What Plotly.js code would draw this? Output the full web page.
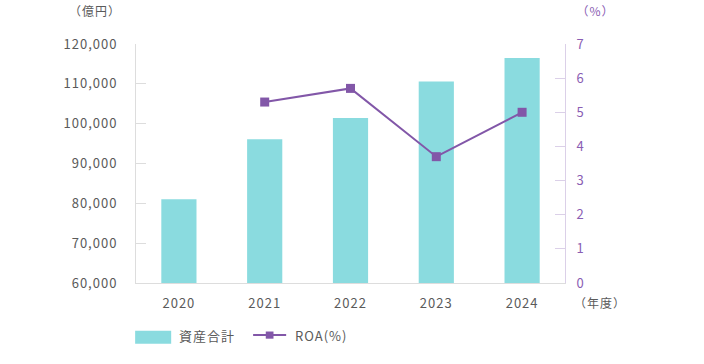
<!DOCTYPE html>
<html>
<head>
<meta charset="utf-8">
<script src="https://cdn.plot.ly/plotly-3.0.1.min.js"></script>
<style>
html,body{margin:0;padding:0;background:#fff;}
#chart{width:704px;height:364px;}
#chart text{letter-spacing:1px;}
</style>
</head>
<body>
<div id="chart"></div>
<script>
const years = ["2020", "2021", "2022", "2023", "2024"];
const totalAssets = [81000, 96100, 101400, 110600, 116500];
const roa = [null, 5.3, 5.7, 3.7, 5.0];
const leftTicks = [60000, 70000, 80000, 90000, 100000, 110000, 120000];
const rightTicks = [0, 1, 2, 3, 4, 5, 6, 7];
const barName = "資産合計";
const lineName = "ROA(%)";

const barColor = "#8adbdf";
const lineColor = "#8257a8";
const grayText = "#5a5a5a";
const purpleText = "#8a5db3";
const fontFam = "'Noto Sans CJK JP', 'Noto Sans', sans-serif";

const traces = [
  {type: "bar", x: years, y: totalAssets, name: barName, marker: {color: barColor}, yaxis: "y", showlegend: false},
  {type: "scatter", mode: "lines+markers", x: years, y: roa, name: lineName, yaxis: "y2",
   line: {color: lineColor, width: 2}, marker: {symbol: "square", size: 9, color: lineColor}, connectgaps: false, showlegend: false}
];

const layout = {
  width: 704, height: 364,
  margin: {l: 136, r: 139, t: 44, b: 81},
  paper_bgcolor: "#fff", plot_bgcolor: "#fff",
  font: {family: fontFam, size: 13, color: grayText},
  bargap: 0.59,
  xaxis: {type: "category", showline: true, linecolor: "#dddddd", linewidth: 1, ticks: "", showgrid: false, zeroline: false,
          tickfont: {size: 13, color: grayText}, ticklabelstandoff: 8},
  yaxis: {range: [60000, 120000], tickvals: leftTicks, tickformat: ",", showgrid: false, zeroline: false,
          showline: true, linecolor: "#dddddd", linewidth: 1, ticks: "inside", ticklen: 10, tickcolor: "#dddddd",
          tickfont: {size: 13, color: grayText}, ticklabelstandoff: 15},
  yaxis2: {range: [0, 7], tickvals: rightTicks, overlaying: "y", side: "right", showgrid: false, zeroline: false,
           showline: true, linecolor: "#dbd0e8", linewidth: 1, ticks: "inside", ticklen: 10, tickcolor: "#dbd0e8",
           tickfont: {size: 13, color: purpleText}, ticklabelstandoff: 8},
  shapes: [
    {type: "rect", xref: "paper", yref: "paper", x0: -0.002, x1: 0.082, y0: -0.254, y1: -0.2, fillcolor: barColor, line: {width: 0}},
    {type: "line", xref: "paper", yref: "paper", x0: 0.273, x1: 0.35, y0: -0.218, y1: -0.218, line: {color: lineColor, width: 2}},
    {type: "rect", xref: "paper", yref: "paper", x0: 0.3025, x1: 0.3205, y0: -0.233, y1: -0.203, fillcolor: lineColor, line: {width: 0}}
  ],
  annotations: [
    {text: "（億円）", xref: "paper", yref: "paper", x: -0.035, y: 1.142, xanchor: "right", yanchor: "middle", showarrow: false,
     font: {size: 12, color: grayText}},
    {text: "（%）", xref: "paper", yref: "paper", x: 1.025, y: 1.142, xanchor: "left", yanchor: "middle", showarrow: false,
     font: {size: 12, color: purpleText}},
    {text: "（年度）", xref: "paper", yref: "paper", x: 1.02, y: -0.08, xanchor: "left", yanchor: "middle", showarrow: false,
     font: {size: 12, color: grayText}},
    {text: barName, xref: "paper", yref: "paper", x: 0.1, y: -0.218, xanchor: "left", yanchor: "middle", showarrow: false,
     font: {size: 13, color: grayText}},
    {text: lineName, xref: "paper", yref: "paper", x: 0.372, y: -0.218, xanchor: "left", yanchor: "middle", showarrow: false,
     font: {size: 13, color: grayText}}
  ]
};

Plotly.newPlot("chart", traces, layout, {displayModeBar: false, staticPlot: true});
</script>
</body>
</html>
